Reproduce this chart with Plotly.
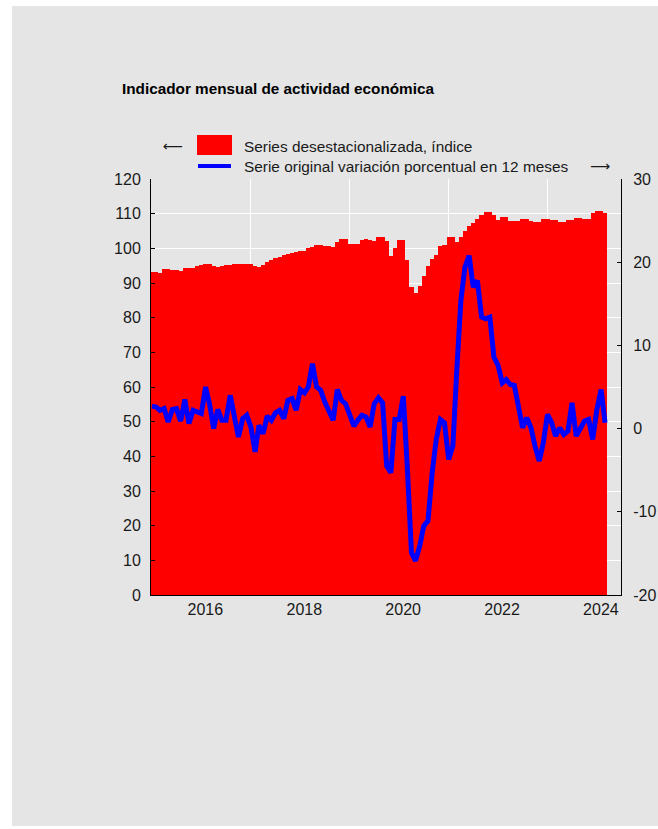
import pandas as pd
import plotly.graph_objects as go

# ---- data ----
months = pd.date_range("2015-01-01", periods=111, freq="MS")

index_sa = [
    93.3, 93.3, 93.0, 94.0, 94.0, 93.8, 93.7, 93.5, 94.2, 94.4, 94.4, 94.8,   # 2015
    95.2, 95.5, 95.4, 94.9, 94.7, 95.0, 95.2, 95.3, 95.6, 95.6, 95.4, 95.6,   # 2016
    95.5, 95.0, 94.6, 95.3, 96.1, 96.5, 97.1, 97.6, 98.2, 98.3, 98.7, 98.9,   # 2017
    99.1, 99.2, 100.0, 100.5, 101.0, 101.0, 100.8, 100.7, 100.3, 101.8, 102.6, 102.6,  # 2018
    101.3, 101.3, 101.2, 102.4, 102.6, 102.5, 102.0, 103.4, 103.3, 102.2, 97.8, 100.2,  # 2019
    102.4, 102.4, 96.6, 88.9, 87.1, 89.1, 92.1, 95.0, 96.9, 98.2, 100.6, 101.0,  # 2020
    103.2, 103.2, 101.8, 103.3, 105.0, 106.4, 107.3, 108.4, 109.5, 110.5, 110.5, 109.6,  # 2021
    108.1, 109.0, 109.0, 107.9, 107.9, 107.9, 108.6, 108.6, 107.9, 107.6, 107.6, 108.4,  # 2022
    108.4, 108.1, 108.1, 107.6, 107.6, 108.1, 108.1, 108.8, 108.8, 108.6, 108.6, 110.2,  # 2023
    110.8, 110.8, 110.1,                                                       # 2024
]

yoy_orig = [
    2.7, 2.6, 2.2, 2.4, 0.8, 2.3, 2.4, 0.9, 3.5, 0.6, 2.2, 2.0,    # 2015
    1.8, 5.0, 3.0, 0.0, 2.3, 1.0, 1.0, 4.0, 1.4, -1.0, 1.2, 1.6,   # 2016
    0.2, -2.8, 0.4, -0.6, 1.5, 1.0, 1.9, 2.2, 1.2, 3.4, 3.6, 2.2,  # 2017
    4.7, 4.3, 5.0, 7.8, 5.0, 4.6, 3.2, 2.2, 1.0, 4.7, 3.4, 3.0,    # 2018
    1.8, 0.3, 1.0, 1.6, 1.4, 0.2, 3.0, 3.7, 3.1, -4.5, -5.3, 1.1,  # 2019
    1.1, 3.9, -4.5, -14.9, -15.9, -14.1, -11.7, -11.1, -5.3, -1.3, 1.1, 0.7,  # 2020
    -3.7, -2.1, 6.7, 15.4, 19.4, 20.8, 17.0, 17.8, 13.4, 13.2, 13.4, 8.6,    # 2021
    7.6, 5.5, 5.9, 5.3, 5.2, 2.7, 0.1, 1.3, 0.1, -2.1, -3.9, -1.7,  # 2022
    1.7, 0.7, -0.9, 0.1, -0.7, -0.3, 3.1, -0.9, 0.1, 0.9, 1.1, -1.3,  # 2023
    2.3, 4.7, 0.7,                                                  # 2024
]

year_ticks = ["2016-01-01", "2018-01-01", "2020-01-01", "2022-01-01", "2024-01-01"]
year_labels = ["2016", "2018", "2020", "2022", "2024"]
grid_years = ["2017-01-01", "2019-01-01", "2021-01-01", "2023-01-01"]
right_ticks = [-20, -10, 0, 10, 20, 30]
right_labels = ["-20", "-10", "0", "10", "20", "30"]

title_text = "Indicador mensual de actividad económica"
legend_bar = "Series desestacionalizada, índice"
legend_line = "Serie original variación porcentual en 12 meses"

FONT = "Liberation Sans, Arial, sans-serif"
GRAY = "#e5e5e5"

fig = go.Figure()
fig.add_trace(go.Bar(
    x=months, y=index_sa, width=[31 * 86400000] * len(months),
    marker=dict(color="#ff0000", line=dict(width=0)),
    name=legend_bar, showlegend=False,
))
fig.add_trace(go.Scatter(
    x=months, y=yoy_orig, yaxis="y2", mode="lines",
    line=dict(color="#0000ff", width=5),
    name=legend_line, showlegend=False,
))

L, R, T, B = 151, 37, 179, 234
W, H = 658, 829
pw, ph = W - L - R, H - T - B


def px(x):
    return (x - L) / pw


def py(y):
    return (H - B - y) / ph


shapes = [
    dict(type="rect", xref="paper", yref="paper", layer="below",
         x0=px(12), x1=px(W + 5), y0=py(826), y1=py(6),
         fillcolor=GRAY, line=dict(width=0)),
    dict(type="rect", xref="paper", yref="paper",
         x0=px(197), x1=px(232), y0=py(155), y1=py(135),
         fillcolor="#ff0000", line=dict(width=0)),
    dict(type="line", xref="paper", yref="paper",
         x0=px(198), x1=px(231), y0=py(166), y1=py(166),
         line=dict(color="#0000ff", width=4)),
]

annotations = [
    dict(text="<b>" + title_text + "</b>", xref="paper", yref="paper",
         x=px(120), y=py(88), xanchor="left", yanchor="middle", showarrow=False,
         font=dict(family=FONT, size=15.3, color="#000000")),
    dict(text=legend_bar, xref="paper", yref="paper",
         x=px(242), y=py(146.5), xanchor="left", yanchor="middle", showarrow=False,
         font=dict(family=FONT, size=15.4, color="#1a1a1a")),
    dict(text=legend_line, xref="paper", yref="paper",
         x=px(242), y=py(166.5), xanchor="left", yanchor="middle", showarrow=False,
         font=dict(family=FONT, size=15.4, color="#1a1a1a")),
    dict(text="⟵", xref="paper", yref="paper",
         x=px(173), y=py(146), xanchor="center", yanchor="middle", showarrow=False,
         font=dict(family="DejaVu Sans", size=14, color="#1a1a1a")),
    dict(text="⟶", xref="paper", yref="paper",
         x=px(600), y=py(166), xanchor="center", yanchor="middle", showarrow=False,
         font=dict(family="DejaVu Sans", size=14, color="#1a1a1a")),
]

tickfont = dict(family=FONT, size=16, color="#1a1a1a")

fig.update_layout(
    width=W, height=H, autosize=False,
    margin=dict(l=L, r=R, t=T, b=B, pad=0, autoexpand=False),
    paper_bgcolor="#ffffff",
    plot_bgcolor=GRAY,
    bargap=0,
    showlegend=False,
    shapes=shapes,
    annotations=annotations,
    xaxis=dict(
        type="date", range=["2014-12-25", "2024-06-27"], automargin=False,
        tickmode="array", tickvals=year_ticks, ticktext=year_labels,
        showgrid=False, ticks="", showline=True, linecolor="#000000", linewidth=1,
        tickfont=tickfont, ticklabelshift=4, ticklabelstandoff=0,
        minor=dict(tickmode="array", tickvals=grid_years, showgrid=True,
                   gridcolor="#ffffff", gridwidth=1, ticks=""),
        zeroline=False,
    ),
    yaxis=dict(
        range=[0, 120], tickmode="linear", tick0=0, dtick=10, automargin=False,
        showgrid=True, gridcolor="#ffffff", gridwidth=1,
        ticks="inside", ticklen=4, tickcolor="#000000",
        showline=True, linecolor="#000000", linewidth=1,
        tickfont=tickfont, ticklabelstandoff=6, zeroline=False,
    ),
    yaxis2=dict(
        range=[-20, 30], tickmode="array", tickvals=right_ticks, ticktext=right_labels,
        automargin=False,
        overlaying="y", side="right", showgrid=False,
        ticks="inside", ticklen=4, tickcolor="#000000",
        showline=True, linecolor="#000000", linewidth=1,
        tickfont=tickfont, ticklabelstandoff=8, zeroline=False,
    ),
)

fig.write_html(
    "out.html",
    config={"responsive": False, "displayModeBar": False},
    post_script=(
        "document.body.style.margin='0';"
        "document.body.style.overflow='hidden';"
        "document.documentElement.style.overflow='hidden';"
    ),
)
